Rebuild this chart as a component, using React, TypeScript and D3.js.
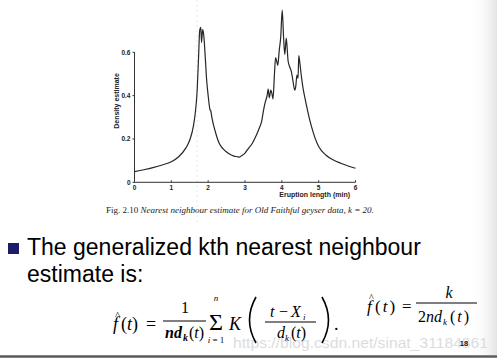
import React from "react";
import * as d3 from "d3";

// Curve: nearest neighbour density estimate
const eruptionX = [0, 0.25, 0.5, 0.75, 1.0, 1.2, 1.4, 1.5, 1.6, 1.65, 1.7, 1.74, 1.77, 1.8, 1.82, 1.85, 1.88, 1.92, 1.96, 2.0, 2.05, 2.07, 2.1, 2.2, 2.3, 2.4, 2.5, 2.6, 2.7, 2.8, 2.85, 2.9, 3.0, 3.1, 3.2, 3.3, 3.4, 3.45, 3.5, 3.55, 3.6, 3.63, 3.66, 3.7, 3.73, 3.76, 3.8, 3.83, 3.86, 3.89, 3.93, 3.97, 4.01, 4.05, 4.08, 4.12, 4.17, 4.22, 4.26, 4.3, 4.35, 4.38, 4.41, 4.44, 4.46, 4.49, 4.53, 4.58, 4.62, 4.7, 4.8, 4.9, 5.0, 5.2, 5.4, 5.6, 5.8, 6.0];
const densityY = [0.049, 0.058, 0.068, 0.08, 0.095, 0.118, 0.16, 0.195, 0.26, 0.32, 0.42, 0.58, 0.7, 0.715, 0.645, 0.705, 0.68, 0.58, 0.47, 0.4, 0.335, 0.33, 0.3, 0.23, 0.18, 0.155, 0.14, 0.128, 0.121, 0.118, 0.116, 0.122, 0.135, 0.158, 0.18, 0.215, 0.255, 0.28, 0.33, 0.37, 0.4, 0.43, 0.39, 0.425, 0.41, 0.385, 0.5, 0.575, 0.56, 0.54, 0.61, 0.67, 0.795, 0.66, 0.59, 0.665, 0.56, 0.53, 0.51, 0.47, 0.425, 0.445, 0.495, 0.48, 0.585, 0.55, 0.49, 0.43, 0.395, 0.33, 0.26, 0.205, 0.165, 0.125, 0.103, 0.088, 0.075, 0.065];

const xTicks = [0, 1, 2, 3, 4, 5, 6];
const yTicks = [0, 0.2, 0.4, 0.6];
const yTickLabels = ["0", "0.2", "0.4", "0.6"];

const xLabel = "Eruption length (min)";
const yLabel = "Density estimate";
const captionFig = "Fig. 2.10 ";
const captionText = "Nearest neighbour estimate for Old Faithful geyser data, k = 20.";
const bulletLine1 = "The generalized kth nearest neighbour";
const bulletLine2 = "estimate is:";
const watermark = "https://blog.csdn.net/sinat_31184861";
const pageNo = "18";

export default function App() {
  const W = 497, H = 361;
  const x = d3.scaleLinear().domain([0, 6]).range([134.5, 355.5]);
  const y = d3.scaleLinear().domain([0, 0.6]).range([182.3, 52.3]);
  const pts = eruptionX.map((v, i) => [v, densityY[i]] as [number, number]);
  const line = d3.line<[number, number]>().x(d => x(d[0])).y(d => y(d[1])).curve(d3.curveMonotoneX);

  const sans = "'Liberation Sans', Arial, sans-serif";
  const serif = "'Liberation Serif', 'Times New Roman', serif";

  return (
    <svg width={W} height={H} style={{ position: "absolute", left: 0, top: 0, background: "#fff" }}>
      <defs>
        <linearGradient id="edge" x1="0" x2="1" y1="0" y2="0">
          <stop offset="0" stopColor="#fff" stopOpacity={0} />
          <stop offset="1" stopColor="#e4e4e4" stopOpacity={1} />
        </linearGradient>
      </defs>
      <rect x={0} y={0} width={W} height={H} fill="#fff" />
      <rect x={470} y={0} width={27} height={355} fill="url(#edge)" />
      {/* faint scan fold line */}
      <line x1={197} x2={197} y1={0} y2={225} stroke="#e2e2e2" strokeWidth={0.8} strokeDasharray="2,3" />

      {/* axes */}
      <line x1={x(0)} x2={x(6)} y1={y(0)} y2={y(0)} stroke="#333" strokeWidth={1} />
      <line x1={x(0)} x2={x(0)} y1={y(0)} y2={y(0.6)} stroke="#333" strokeWidth={1} />
      {xTicks.map(t => (
        <g key={"xt" + t}>
          <line x1={x(t)} x2={x(t)} y1={y(0)} y2={y(0) - 2} stroke="#333" strokeWidth={1} />
          <text x={x(t)} y={190} fontFamily={sans} fontWeight="bold" fontSize={6.5} textAnchor="middle" fill="#222">{t}</text>
        </g>
      ))}
      {yTicks.map((t, i) => (
        <g key={"yt" + t}>
          <line x1={x(0) - 2} x2={x(0)} y1={y(t)} y2={y(t)} stroke="#333" strokeWidth={1} />
          <text x={x(0) - 4} y={y(t) + 2.5} fontFamily={sans} fontWeight="bold" fontSize={6.5} textAnchor="end" fill="#222">{yTickLabels[i]}</text>
        </g>
      ))}
      <text x={350} y={197} fontFamily={sans} fontWeight="bold" fontSize={7} textAnchor="end" fill="#222">{xLabel}</text>
      <text transform={`translate(119,101) rotate(-90)`} fontFamily={sans} fontWeight="bold" fontSize={7} textAnchor="middle" fill="#222">{yLabel}</text>

      <path d={line(pts) || ""} fill="none" stroke="#262626" strokeWidth={1.2} strokeLinejoin="round" />

      {/* caption */}
      <text x={106} y={213} fontFamily={serif} fontSize={9} fill="#222">
        <tspan>{captionFig}</tspan>
        <tspan fontStyle="italic">{captionText}</tspan>
      </text>

      {/* slide text */}
      <rect x={8} y={243} width={11} height={11} fill="#1c1c6b" />
      <text x={27} y={255} fontFamily={sans} fontSize={23} fill="#000">{bulletLine1}</text>
      <text x={27} y={281.5} fontFamily={sans} fontSize={23} fill="#000">{bulletLine2}</text>

      {/* watermark */}
      <text x={233} y={348} fontFamily={sans} fontSize={15} fill="#dcdcdc" textLength={255} lengthAdjust="spacingAndGlyphs">{watermark}</text>

      {/* formula 1 */}
      <g fontFamily={serif} fill="#000">
        <text x={113} y={330} fontSize={18} fontStyle="italic">f</text>
        <text x={115} y={319} fontSize={11}>^</text>
        <text x={121} y={330} fontSize={18}>(<tspan fontStyle="italic">t</tspan>)</text>
        <text x={146} y={330} fontSize={18}>=</text>
        <text x={185} y={313} fontSize={16} textAnchor="middle">1</text>
        <line x1={163} x2={206} y1={321} y2={321} stroke="#000" strokeWidth={1} />
        <text x={165} y={338} fontSize={16} fontStyle="italic" fontWeight="bold">nd</text>
        <text x={183} y={341} fontSize={10} fontStyle="italic" fontWeight="bold">k</text>
        <text x={189} y={338} fontSize={16}>(<tspan fontStyle="italic">t</tspan>)</text>
        <text x={216} y={301} fontSize={9} fontStyle="italic" textAnchor="middle">n</text>
        <text x={216} y={330} fontSize={24} textAnchor="middle">Σ</text>
        <text x={216} y={343} fontSize={9} textAnchor="middle"><tspan fontStyle="italic">i</tspan> = 1</text>
        <text x={229} y={330} fontSize={18} fontStyle="italic">K</text>
        <path d="M256,297 Q243,320 256,343" fill="none" stroke="#000" strokeWidth={1.6} />
        <path d="M322,297 Q335,320 322,343" fill="none" stroke="#000" strokeWidth={1.6} />
        <text x={270} y={317} fontSize={16} fontStyle="italic">t</text>
        <text x={279} y={317} fontSize={16}>−</text>
        <text x={291} y={317} fontSize={16} fontStyle="italic">X</text>
        <text x={303} y={320} fontSize={9} fontStyle="italic">i</text>
        <line x1={265} x2={316} y1={322} y2={322} stroke="#000" strokeWidth={1} />
        <text x={277} y={338} fontSize={16} fontStyle="italic">d</text>
        <text x={285} y={341} fontSize={9} fontStyle="italic">k</text>
        <text x={291} y={338} fontSize={16}>(<tspan fontStyle="italic">t</tspan>)</text>
        <text x={334} y={330} fontSize={18}>.</text>
      </g>

      {/* formula 2 */}
      <g fontFamily={serif} fill="#000">
        <text x={367} y={312} fontSize={17} fontStyle="italic">f</text>
        <text x={369} y={301} fontSize={10}>^</text>
        <text x={375} y={312} fontSize={17} letterSpacing={2}>(<tspan fontStyle="italic">t</tspan>)</text>
        <text x={402} y={312} fontSize={17}>=</text>
        <text x={449} y={298} fontSize={16} fontStyle="italic" textAnchor="middle">k</text>
        <line x1={416} x2={477} y1={303} y2={303} stroke="#000" strokeWidth={1} />
        <text x={418} y={322} fontSize={16}>2<tspan fontStyle="italic">nd</tspan></text>
        <text x={443} y={325} fontSize={9} fontStyle="italic">k</text>
        <text x={450} y={322} fontSize={16} letterSpacing={2}>(<tspan fontStyle="italic">t</tspan>)</text>
      </g>

      <text x={464} y={346} fontFamily={sans} fontSize={7.5} fontWeight="bold" textAnchor="middle" fill="#111">{pageNo}</text>
      <line x1={0} x2={W} y1={356.5} y2={356.5} stroke="#5a5a5a" strokeWidth={2.5} />
    </svg>
  );
}
